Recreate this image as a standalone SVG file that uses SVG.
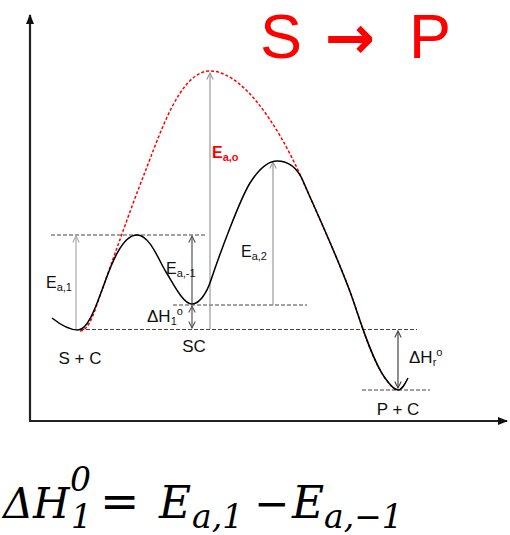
<svg xmlns="http://www.w3.org/2000/svg" width="510" height="535" viewBox="0 0 510 535">
<style>
.lbl{font-family:"Liberation Sans",Arial,sans-serif;fill:#111}
.red{font-family:"Liberation Sans",Arial,sans-serif;fill:#ff0000}
.dash{stroke:#444;stroke-width:1;stroke-dasharray:4 2;fill:none}
.arr{stroke-width:1.2;fill:none}
.math{font-family:"DejaVu Serif","Liberation Serif",serif;font-style:italic;fill:#000}
</style>
<defs>
<marker id="axh" viewBox="0 0 10 10" refX="9" refY="5" markerWidth="10" markerHeight="10" markerUnits="userSpaceOnUse" orient="auto">
<path d="M0,1 L10,5 L0,9 Z" fill="#111"/>
</marker>
<marker id="open" viewBox="0 0 10 10" refX="9" refY="5" markerWidth="8" markerHeight="8" markerUnits="userSpaceOnUse" orient="auto-start-reverse">
<path d="M1,1 L9,5 L1,9" fill="none" stroke="context-stroke" stroke-width="1.4"/>
</marker>
</defs>

<g id="axes">
<line x1="30" y1="421" x2="30" y2="15" stroke="#222" stroke-width="2.2" marker-end="url(#axh)"/>
<line x1="29" y1="421" x2="507" y2="421" stroke="#222" stroke-width="2.2" marker-end="url(#axh)"/>
</g>

<g id="levels">
<line class="dash" x1="51" y1="235" x2="205" y2="235"/>
<line class="dash" x1="173" y1="305" x2="307" y2="305"/>
<line class="dash" x1="80" y1="329.5" x2="417" y2="329.5"/>
<line class="dash" x1="362" y1="390" x2="430" y2="390"/>
</g>

<g id="connectors">
<line class="arr" stroke="#aaa" x1="76" y1="329" x2="76" y2="236" marker-end="url(#open)"/>
<line class="arr" stroke="#555" x1="192" y1="303" x2="192" y2="236" marker-end="url(#open)"/>
<line class="arr" stroke="#555" x1="192" y1="306" x2="192" y2="328" marker-start="url(#open)" marker-end="url(#open)"/>
<line class="arr" stroke="#999" x1="210" y1="329" x2="210" y2="73" marker-end="url(#open)"/>
<line class="arr" stroke="#999" x1="273" y1="305" x2="273" y2="162" marker-end="url(#open)"/>
<line class="arr" stroke="#444" x1="398" y1="331" x2="398" y2="388" marker-start="url(#open)" marker-end="url(#open)"/>
</g>

<g id="uncatalysed">
<path d="M80,331 C90,331 96,306 102,290 C110,268 130,210 145,172 C160,134 180,71 210,71 C240,71 275,118 303,181 C311,200 340,262 353,300 C360,320 372,360 385,378 C390,385 394,390 398,390" fill="none" stroke="#ff0000" stroke-width="1.5" stroke-dasharray="3 2"/>
</g>

<g id="catalysed">
<path d="M52,318 C62,326 70,330 78,330 C88,330 96,306 102,290 C108,274 120,235 137,235 C150,235 159,261 166,272 C173,283 183,304 192,304 C200,304 207,292 211,280 C219,256 240,199 250,183 C257,172 267,161 277,161 C289,161 297,167 303,181 C311,200 340,262 353,300 C360,320 372,360 385,378 C390,385 394,390 398,390 C402,390 405,384 408,378" fill="none" stroke="#000" stroke-width="1.5"/>
</g>

<g id="title">
<text class="red" font-size="63" y="57.5"><tspan x="260">S</tspan><tspan x="325" font-family="DejaVu Sans" font-weight="bold" font-size="60">→</tspan><tspan x="409">P</tspan></text>
</g>

<g id="labels">
<text class="lbl" font-size="16" x="46" y="288">E<tspan font-size="11" dy="3">a,1</tspan></text>
<text class="lbl" font-size="16" x="166" y="274">E<tspan font-size="11" dy="3">a,-1</tspan></text>
<text class="red" font-size="16" font-weight="bold" x="212" y="158">E<tspan font-size="11" dy="3">a,o</tspan></text>
<text class="lbl" font-size="16" x="241" y="257">E<tspan font-size="11" dy="3">a,2</tspan></text>
<text class="lbl" font-size="17" x="147" y="322">ΔH<tspan font-size="11" dy="3">1</tspan><tspan font-size="11" dy="-10">o</tspan></text>
<text class="lbl" font-size="17" x="409" y="363">ΔH<tspan font-size="11" dy="3">r</tspan><tspan font-size="11" dy="-10">o</tspan></text>
<text class="lbl" font-size="17" x="80" y="364" text-anchor="middle">S + C</text>
<text class="lbl" font-size="17" x="194" y="352" text-anchor="middle">SC</text>
<text class="lbl" font-size="17" x="398" y="415" text-anchor="middle">P + C</text>
</g>

<g id="formula">
<text class="math" font-size="42"><tspan x="3" y="518">Δ</tspan><tspan x="33" y="518">H</tspan><tspan x="70" y="491" font-size="33">0</tspan><tspan x="71" y="528" font-size="33">1</tspan><tspan x="100" y="517" font-style="normal" font-size="47">=</tspan><tspan x="159" y="518" font-size="44">E</tspan><tspan x="192" y="528" font-size="33">a,1</tspan><tspan x="254" y="518" font-style="normal">−</tspan><tspan x="292" y="518" font-size="44">E</tspan><tspan x="324" y="528" font-size="33">a,−1</tspan></text>
</g>
</svg>
